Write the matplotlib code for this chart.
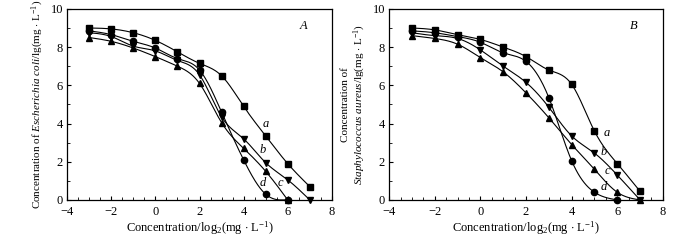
import numpy as np
import matplotlib
matplotlib.use("Agg")
import matplotlib.pyplot as plt
from matplotlib.ticker import MultipleLocator

plt.rcParams["font.family"] = ["Liberation Serif", "DejaVu Serif"]
plt.rcParams["mathtext.fontset"] = "custom"
plt.rcParams["mathtext.rm"] = "Liberation Serif"
plt.rcParams["mathtext.it"] = "Liberation Serif:italic"

# log2 concentration
x_vals = [-3, -2, -1, 0, 1, 2, 3, 4, 5, 6, 7]

# Panel A - Escherichia coli
a_A = [9.0, 8.95, 8.75, 8.35, 7.75, 7.15, 6.5, 4.9, 3.35, 1.9, 0.7]
b_A = [8.75, 8.55, 8.05, 7.8, 7.3, 6.55, 4.35, 3.2, 1.95, 1.05, 0.0]
c_A = [8.5, 8.3, 7.95, 7.5, 7.0, 6.1, 4.05, 2.7, 1.5, 0.0]
d_A = [8.85, 8.65, 8.3, 7.95, 7.4, 6.8, 4.6, 2.1, 0.3, 0.0]

# Panel B - Staphylococcus aureus
a_B = [9.0, 8.9, 8.65, 8.4, 8.0, 7.5, 6.8, 6.05, 3.6, 1.9, 0.45]
b_B = [8.75, 8.6, 8.45, 7.85, 7.0, 6.15, 4.85, 3.35, 2.45, 1.3, 0.0]
c_B = [8.6, 8.45, 8.15, 7.45, 6.7, 5.6, 4.3, 2.9, 1.6, 0.4, 0.0]
d_B = [8.85, 8.75, 8.55, 8.25, 7.7, 7.25, 5.35, 2.05, 0.4, 0.0]

markers = {"a": "s", "b": "v", "c": "^", "d": "o"}


def spline(xs, ys, n=300):
    # natural cubic spline through the points
    xs = np.asarray(xs, float)
    ys = np.asarray(ys, float)
    k = len(xs)
    h = np.diff(xs)
    A = np.zeros((k, k))
    r = np.zeros(k)
    A[0, 0] = A[-1, -1] = 1
    for i in range(1, k - 1):
        A[i, i - 1] = h[i - 1]
        A[i, i] = 2 * (h[i - 1] + h[i])
        A[i, i + 1] = h[i]
        r[i] = 6 * ((ys[i + 1] - ys[i]) / h[i] - (ys[i] - ys[i - 1]) / h[i - 1])
    m = np.linalg.solve(A, r)
    xf = np.linspace(xs[0], xs[-1], n)
    idx = np.clip(np.searchsorted(xs, xf) - 1, 0, k - 2)
    x0, x1 = xs[idx], xs[idx + 1]
    hh = x1 - x0
    t0, t1 = x1 - xf, xf - x0
    yf = (m[idx] * t0**3 + m[idx + 1] * t1**3) / (6 * hh) \
        + (ys[idx] / hh - m[idx] * hh / 6) * t0 \
        + (ys[idx + 1] / hh - m[idx + 1] * hh / 6) * t1
    return xf, np.clip(yf, 0, None)


def draw(ax, series, letter, labels, ylabel):
    for name, ys in series.items():
        xs = x_vals[:len(ys)]
        xf, yf = spline(xs, ys)
        ax.plot(xf, yf, color="black", lw=0.8)
        ax.plot(xs, ys, ls="none", marker=markers[name], ms=4.5,
                color="black", clip_on=False)
    ax.set_xlim(-4, 8)
    ax.set_ylim(0, 10)
    ax.set_xticks([-4, -2, 0, 2, 4, 6, 8])
    ax.set_yticks([0, 2, 4, 6, 8, 10])
    ax.xaxis.set_minor_locator(MultipleLocator(0.5))
    ax.yaxis.set_minor_locator(MultipleLocator(1))
    ax.tick_params(which="both", direction="in", top=False, right=False,
                   labelsize=9)
    ax.tick_params(axis="x", pad=4.5)
    ax.tick_params(axis="y", pad=3)
    ax.tick_params(which="major", length=3)
    ax.tick_params(which="minor", length=2)
    for s in ax.spines.values():
        s.set_linewidth(0.9)
    ax.text(6.7, 9.1, letter, fontstyle="italic", fontsize=9,
            ha="center", va="center")
    for name, (tx, ty) in labels.items():
        ax.text(tx, ty, name, fontstyle="italic", fontsize=9,
                ha="center", va="center")
    ax.set_xlabel(r"Concentration/log$_2$(mg $\cdot$ L$^{-1}$)", fontsize=9,
                  labelpad=1)
    ax.set_ylabel(ylabel, fontsize=8, labelpad=3)


fig = plt.figure(figsize=(7, 2.4), dpi=100)
axA = fig.add_axes([0.096, 0.167, 0.378, 0.796])
axB = fig.add_axes([0.556, 0.167, 0.391, 0.796])

draw(axA, {"a": a_A, "b": b_A, "c": c_A, "d": d_A}, "A",
     {"a": (5.0, 4.0), "b": (4.85, 2.6), "c": (5.65, 0.9), "d": (4.85, 0.9)},
     r"Concentration of $\it{Escherichia\ coli}$/lg(mg $\cdot$ L$^{-1}$)")
draw(axB, {"a": a_B, "b": b_B, "c": c_B, "d": d_B}, "B",
     {"a": (5.55, 3.5), "b": (5.4, 2.5), "c": (5.55, 1.5), "d": (5.42, 0.7)},
     "Concentration of\n" r"$\it{Staphylococcus\ aureus}$/lg(mg $\cdot$ L$^{-1}$)")

fig.savefig("out.png", dpi=100)
